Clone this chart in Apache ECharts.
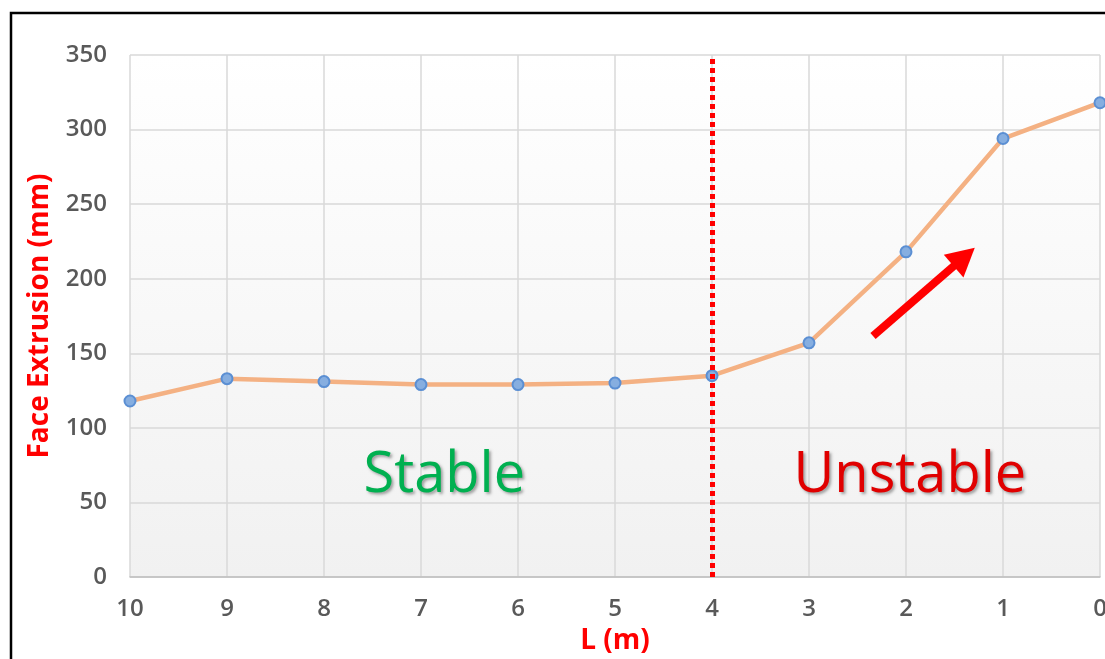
<!DOCTYPE html>
<html>
<head>
<meta charset="utf-8">
<script src="https://cdn.jsdelivr.net/npm/echarts@6/dist/echarts.min.js"></script>
<style>
  html, body { margin: 0; padding: 0; background: #ffffff; }
  #chart { width: 1105px; height: 659px; }
</style>
</head>
<body>
<div id="chart"></div>
<script>
// Distance to the face L (m) and the measured face extrusion (mm)
const distances = [10, 9, 8, 7, 6, 5, 4, 3, 2, 1, 0];
const extrusion = [118, 133, 131, 129, 129, 130, 135, 157, 218, 294, 318];
const yTicks = [0, 50, 100, 150, 200, 250, 300, 350];

// Boundary between stable and unstable zones
const boundaryL = 4;
// Trend arrow (from, to) in data units [L, mm]
const trendFrom = [2.34, 161.6];
const trendTo = [1.40, 214.6];
// Zone captions in data units [L, mm]
const stablePos = [6.76, 68];
const unstablePos = [1.96, 68];

const FONT = '"Open Sans", "Liberation Sans", sans-serif';

const chart = echarts.init(document.getElementById('chart'), null, { renderer: 'canvas' });

const zoneLabel = (text, color) => ({
  show: true,
  formatter: text,
  position: 'inside',
  fontFamily: FONT,
  fontSize: 56,
  color: color,
  textShadowColor: 'rgba(0,0,0,0.35)',
  textShadowBlur: 3,
  textShadowOffsetX: 2,
  textShadowOffsetY: 2
});

chart.setOption({
  animation: false,
  backgroundColor: '#ffffff',
  graphic: [{
    type: 'rect',
    shape: { x: 11, y: 13, width: 1300, height: 900 },
    style: { fill: 'none', stroke: '#000000', lineWidth: 2.5 },
    z: -1,
    silent: true
  }],
  grid: {
    left: 130, right: 5, top: 55, bottom: 82,
    outerBoundsMode: 'none',
    containLabel: false,
    show: true,
    borderWidth: 0,
    backgroundColor: {
      type: 'linear', x: 0, y: 0, x2: 0, y2: 1,
      colorStops: [{ offset: 0, color: '#ffffff' }, { offset: 1, color: '#f1f1f1' }]
    }
  },
  xAxis: {
    type: 'value',
    min: 0, max: 10, interval: 1,
    inverse: true,
    name: 'L (m)',
    nameLocation: 'middle',
    nameGap: 50,
    nameTextStyle: { color: '#ff0000', fontFamily: FONT, fontWeight: 'bold', fontSize: 28 },
    axisLine: { show: true, lineStyle: { color: '#bfbfbf', width: 1.5 } },
    axisTick: { show: false },
    axisLabel: {
      color: '#595959', fontFamily: FONT, fontWeight: 600, fontSize: 24, margin: 20,
      formatter: v => String(distances.find(d => d === v) ?? v)
    },
    splitLine: { show: true, lineStyle: { color: '#d9d9d9', width: 1.5 } }
  },
  yAxis: {
    type: 'value',
    min: yTicks[0], max: yTicks[yTicks.length - 1], interval: 50,
    name: 'Face Extrusion (mm)',
    nameLocation: 'middle',
    nameGap: 76,
    nameTextStyle: { color: '#ff0000', fontFamily: FONT, fontWeight: 'bold', fontSize: 28 },
    axisLine: { show: false },
    axisTick: { show: false },
    axisLabel: { color: '#595959', fontFamily: FONT, fontWeight: 600, fontSize: 24, margin: 23 },
    splitLine: { show: true, lineStyle: { color: '#d9d9d9', width: 1.5 } }
  },
  series: [
    {
      name: 'Face Extrusion',
      type: 'line',
      z: 2,
      data: distances.map((d, i) => [d, extrusion[i]]),
      lineStyle: { color: '#f4b183', width: 4.5 },
      symbol: 'circle',
      symbolSize: 11,
      itemStyle: { color: '#86aee0', borderColor: '#5b8fd3', borderWidth: 2 },
      markPoint: {
        symbol: 'circle',
        symbolSize: 1,
        itemStyle: { color: 'rgba(0,0,0,0)' },
        data: [
          { coord: stablePos, label: zoneLabel('Stable', '#00b050') },
          { coord: unstablePos, label: zoneLabel('Unstable', '#e00000') }
        ]
      }
    },
    {
      name: 'Boundary',
      type: 'line',
      z: 5,
      data: [],
      markLine: {
        silent: true,
        symbol: ['none', 'none'],
        label: { show: false },
        lineStyle: { color: '#ff0000', width: 5, type: [5, 4] },
        data: [{ xAxis: boundaryL }]
      }
    },
    {
      name: 'Trend',
      type: 'line',
      z: 4,
      data: [],
      markLine: {
        silent: true,
        symbol: ['none', 'triangle'],
        symbolSize: [30, 28],
        label: { show: false },
        lineStyle: { color: '#ff0000', width: 8, type: 'solid' },
        itemStyle: { color: '#ff0000' },
        data: [[{ coord: trendFrom }, { coord: trendTo }]]
      }
    }
  ]
});
</script>
</body>
</html>
